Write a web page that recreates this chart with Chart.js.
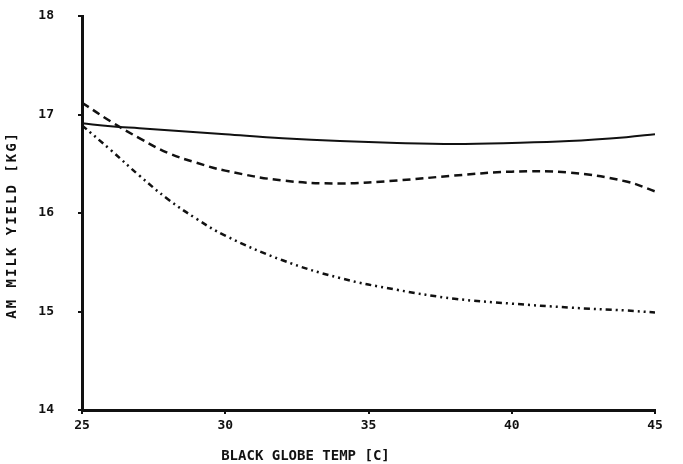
<!DOCTYPE html>
<html>
<head>
<meta charset="utf-8">
<script src="https://cdn.jsdelivr.net/npm/chart.js@4.4.1/dist/chart.umd.min.js"></script>
<style>
  html, body { margin: 0; padding: 0; background: #fff; }
  #wrap { width: 683px; height: 464px; }
</style>
</head>
<body>
<div id="wrap"><canvas id="myChart" width="683" height="464"></canvas></div>
<script>
// globe temperature (C) and AM milk yield (kg)
const temps = [25, 26, 27, 28, 29, 30, 32, 34, 36, 38, 40, 42, 44, 45];
const solidYield = [16.91, 16.88, 16.86, 16.84, 16.82, 16.80, 16.76, 16.73, 16.71, 16.70, 16.71, 16.73, 16.77, 16.80];
const dashedYield = [17.12, 16.93, 16.76, 16.61, 16.51, 16.43, 16.33, 16.30, 16.33, 16.38, 16.42, 16.41, 16.32, 16.22];
const dotDashYield = [16.89, 16.64, 16.38, 16.14, 15.94, 15.77, 15.52, 15.34, 15.22, 15.13, 15.08, 15.04, 15.01, 14.99];
const xTicks = [25, 30, 35, 40, 45];
const yTicks = [14, 15, 16, 17, 18];
const xTitle = 'BLACK GLOBE TEMP [C]';
const yTitle = 'AM MILK YIELD [KG]';

const ink = '#111';

function pts(ys) {
  return temps.map((t, i) => ({x: t, y: ys[i]}));
}

// axis titles drawn by hand so they sit where the original put them
const titles = {
  id: 'titles',
  afterDraw(chart) {
    const ctx = chart.ctx;
    const a = chart.chartArea;
    ctx.save();
    ctx.fillStyle = ink;
    ctx.font = 'bold 14px "DejaVu Sans Mono", monospace';
    ctx.textAlign = 'center';
    ctx.textBaseline = 'middle';
    ctx.fillText(xTitle, a.left + (a.right - a.left) * 0.39, 456);
    ctx.translate(12, a.top + (a.bottom - a.top) * 0.53);
    ctx.rotate(-Math.PI / 2);
    ctx.letterSpacing = '2px';
    ctx.fillText(yTitle, 0, 0);
    ctx.restore();
  }
};

new Chart(document.getElementById('myChart'), {
  type: 'line',
  data: {
    datasets: [
      {
        label: 'solid',
        data: pts(solidYield),
        borderColor: ink,
        borderWidth: 2,
        pointRadius: 0,
        tension: 0.4
      },
      {
        label: 'dashed',
        data: pts(dashedYield),
        borderColor: ink,
        borderWidth: 2.5,
        borderDash: [8, 5],
        pointRadius: 0,
        tension: 0.4
      },
      {
        label: 'dash dot',
        data: pts(dotDashYield),
        borderColor: ink,
        borderWidth: 2.5,
        borderDash: [6, 4, 2, 4, 2, 4],
        pointRadius: 0,
        tension: 0.4
      }
    ]
  },
  options: {
    responsive: false,
    animation: false,
    layout: { padding: { top: 16, right: 28, left: 0, bottom: 0 } },
    plugins: { legend: { display: false }, tooltip: { enabled: false } },
    scales: {
      x: {
        type: 'linear',
        min: 25,
        max: 45,
        afterBuildTicks: s => { s.ticks = xTicks.map(v => ({value: v})); },
        afterFit: s => { s.height = 54; s.paddingLeft = 0; s.paddingRight = 0; },
        border: { color: ink, width: 3 },
        grid: { drawOnChartArea: false, color: ink, lineWidth: 2, tickLength: 4 },
        ticks: { color: ink, font: { family: '"DejaVu Sans Mono", monospace', size: 13, weight: 'bold' }, padding: 4, maxRotation: 0 }
      },
      y: {
        min: 14,
        max: 18,
        afterBuildTicks: s => { s.ticks = yTicks.map(v => ({value: v})); },
        afterFit: s => { s.width = 82; s.paddingTop = 0; s.paddingBottom = 0; },
        border: { color: ink, width: 3 },
        grid: { drawOnChartArea: false, color: ink, lineWidth: 2, tickLength: 4 },
        ticks: { color: ink, font: { family: '"DejaVu Sans Mono", monospace', size: 13, weight: 'bold' }, padding: 24 }
      }
    }
  },
  plugins: [titles]
});
</script>
</body>
</html>
